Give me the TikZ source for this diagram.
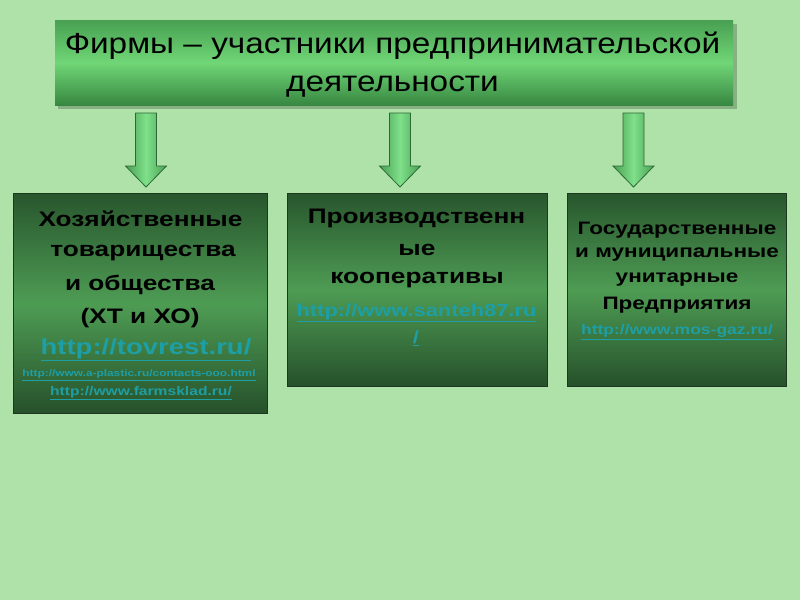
\documentclass[tikz,border=0pt]{standalone}
\usepackage{fontspec}
\setmainfont{Liberation Sans}
\newfontfamily\titlefont[FakeStretch=1.15]{Liberation Sans}
\newfontfamily\boxfont[FakeStretch=1.25]{Liberation Sans}
\usetikzlibrary{calc}
\definecolor{bgc}{RGB}{174,226,168}
\definecolor{ttop}{RGB}{72,160,82}
\definecolor{tmid}{RGB}{112,214,118}
\definecolor{tbot}{RGB}{55,135,65}
\definecolor{btop}{RGB}{40,86,45}
\definecolor{bmid}{RGB}{78,156,84}
\definecolor{bbot}{RGB}{38,80,42}
\definecolor{bedge}{RGB}{28,56,30}
\definecolor{linkc}{RGB}{30,158,165}
\definecolor{aedge}{RGB}{72,160,84}
\definecolor{amid}{RGB}{128,224,138}
\definecolor{aline}{RGB}{45,105,52}
\tikzset{
  titlebox/.style={draw=none, top color=ttop, bottom color=tbot, middle color=tmid, inner sep=0pt},
  firmbox/.style={draw=bedge, line width=1.2pt, top color=btop, bottom color=bbot, middle color=bmid, inner sep=0pt, anchor=north west},
  ttl/.style={font=\titlefont\fontsize{29}{32}\selectfont, text=black, inner sep=0pt},
  bt/.style={font=\boxfont\bfseries\fontsize{#1}{#1}\selectfont, text=black, inner sep=0pt},
  lk/.style={font=\boxfont\bfseries\fontsize{#1}{#1}\selectfont, text=linkc, inner sep=0pt},
  blockarrow/.style={draw=aline, line width=0.8pt, left color=aedge, right color=aedge, middle color=amid, line join=miter}
}
\newcommand{\lnk}[1]{\underline{#1}}
\begin{document}
\begin{tikzpicture}[x=1pt,y=-1pt]
\useasboundingbox (0,0) rectangle (800,600);
\fill[bgc] (0,0) rectangle (800,600);
% title
\fill[black,opacity=0.22] (58,24) rectangle (737,109);
\node[titlebox, minimum width=678pt, minimum height=85pt, anchor=north west] (title) at (55,20) {};
\node[ttl] (t1) at (392.5,46) {Фирмы – участники предпринимательской};
\node[ttl] (t2) at (392.5,87) {деятельности};
% arrows
\coordinate (a1) at (146,113);
\coordinate (a2) at (400,113);
\coordinate (a3) at (633.5,113);
\foreach \a in {a1,a2,a3}{
  \draw[blockarrow, shift={(\a)}] (-10.5,0) -- (10.5,0) -- (10.5,53) -- (20.5,53) -- (0,74) -- (-20.5,53) -- (-10.5,53) -- cycle;
}
% boxes
\node[firmbox, minimum width=254pt, minimum height=220pt] (b1) at (13,193) {};
\node[firmbox, minimum width=260pt, minimum height=193pt] (b2) at (287,193) {};
\node[firmbox, minimum width=219pt, minimum height=193pt] (b3) at (567,193) {};
% box 1 text
\node[bt=21] (l11) at (140.5,219) {Хозяйственные};
\node[bt=21] (l12) at (143,253) {товарищества};
\node[bt=21] (l13) at (140,285) {и общества};
\node[bt=21] (l14) at (140,318) {(ХТ и ХО)};
\node[lk=22] (l15) at (146,350) {\lnk{http://tovrest.ru/}};
\node[lk=9.5] (l16) at (139,375) {\lnk{http://www.a-plastic.ru/contacts-ooo.html}};
\node[lk=12.5] (l17) at (141,393) {\lnk{http://www.farmsklad.ru/}};
% box 2 text
\node[bt=21] (l21) at (416.5,218) {Производственн};
\node[bt=21] (l22) at (417,250) {ые};
\node[bt=21] (l23) at (417,280) {кооперативы};
\node[lk=17.5] (l24) at (416.5,313) {\lnk{http://www.santeh87.ru}};
\node[lk=17.5] (l25) at (416,338) {\lnk{/}};
% box 3 text
\node[bt=18] (l31) at (677,230) {Государственные};
\node[bt=18] (l32) at (677,255) {и муниципальные};
\node[bt=18] (l33) at (677,280) {унитарные};
\node[bt=18] (l34) at (677,305) {Предприятия};
\node[lk=14] (l35) at (677,332) {\lnk{http://www.mos-gaz.ru/}};
\end{tikzpicture}
\end{document}
